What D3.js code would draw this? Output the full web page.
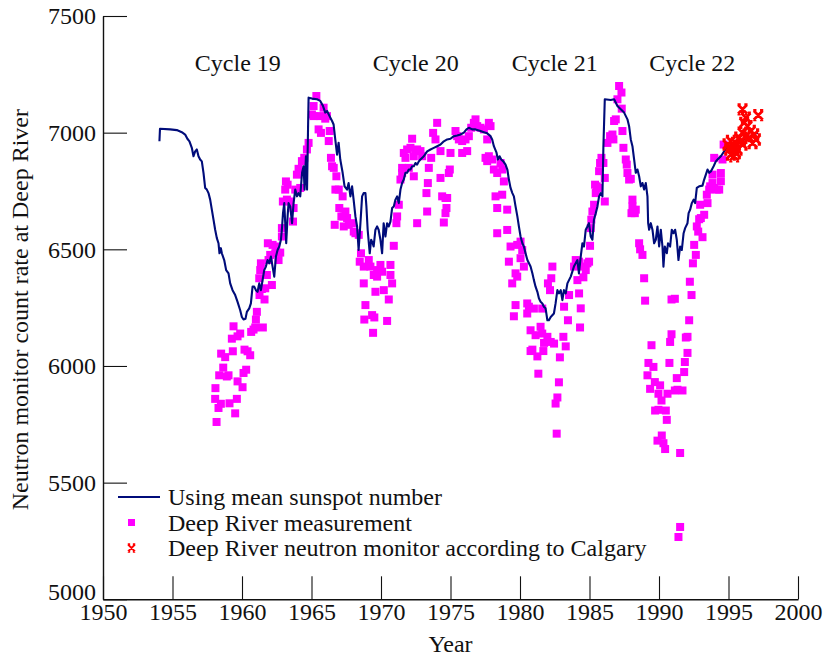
<!DOCTYPE html>
<html>
<head>
<meta charset="utf-8">
<script src="https://cdn.jsdelivr.net/npm/d3@7"></script>
<style>
  html, body { margin: 0; padding: 0; background: #fff; }
  svg text { font-family: "Liberation Serif", "Times New Roman", serif; fill: #111; }
</style>
</head>
<body>
<svg id="chart" width="825" height="658"></svg>
<script>
// Neutron monitor count rate computed from the mean sunspot number: [year, count rate]
const sunspotModel = [
  [1954.06,6963],[1954.1,7017],[1954.83,7014],[1955.31,7011],[1955.67,7002],[1955.91,6992],[1956.07,6974],[1956.22,6963],
  [1956.39,6935],[1956.51,6899],[1956.63,6920],[1956.75,6928],[1956.87,6899],[1956.99,6885],[1957.11,6877],[1957.23,6828],
  [1957.35,6763],[1957.47,6756],[1957.59,6741],[1957.71,6713],[1957.83,6670],[1957.95,6627],[1958.07,6584],[1958.19,6548],
  [1958.31,6526],[1958.38,6483],[1958.48,6505],[1958.55,6483],[1958.72,6454],[1958.86,6411],[1959.03,6397],[1959.15,6354],
  [1959.32,6325],[1959.51,6304],[1959.68,6275],[1959.87,6239],[1959.99,6210],[1960.11,6199],[1960.25,6202],[1960.35,6232],
  [1960.52,6247],[1960.64,6268],[1960.76,6340],[1960.88,6340],[1961.0,6325],[1961.12,6318],[1961.24,6354],[1961.36,6325],
  [1961.48,6368],[1961.60,6411],[1961.72,6426],[1961.84,6454],[1961.96,6440],[1962.08,6469],[1962.20,6426],[1962.32,6383],
  [1962.44,6469],[1962.56,6497],[1962.68,6512],[1962.80,6541],[1962.87,6584],[1962.95,6655],[1963.04,6698],[1963.11,6612],
  [1963.18,6526],[1963.28,6641],[1963.35,6698],[1963.47,6684],[1963.60,6612],[1963.71,6698],[1963.83,6756],[1963.96,6727],
  [1964.07,6741],[1964.19,6727],[1964.32,6828],[1964.43,6856],[1964.50,6756],[1964.60,6899],[1964.68,6756],[1964.75,7014],
  [1964.79,7150],[1965.04,7146],[1965.40,7143],[1965.63,7136],[1965.83,7114],[1965.99,7086],[1966.12,7093],[1966.30,7071],
  [1966.48,7050],[1966.59,7035],[1966.71,6971],[1966.84,6906],[1966.95,6957],[1967.07,6885],[1967.24,6828],[1967.38,6770],
  [1967.56,6756],[1967.67,6784],[1967.80,6727],[1967.92,6770],[1968.03,6713],[1968.16,6641],[1968.28,6598],[1968.39,6497],
  [1968.52,6612],[1968.64,6727],[1968.75,6741],[1968.88,6741],[1968.95,6684],[1969.04,6584],[1969.19,6483],[1969.29,6541],
  [1969.40,6526],[1969.47,6512],[1969.60,6584],[1969.72,6598],[1969.83,6584],[1969.96,6541],[1970.08,6483],[1970.19,6612],
  [1970.32,6555],[1970.44,6612],[1970.56,6598],[1970.68,6619],[1970.80,6677],[1970.92,6684],[1971.04,6713],[1971.16,6727],
  [1971.28,6698],[1971.40,6756],[1971.52,6784],[1971.64,6799],[1971.76,6828],[1971.88,6828],[1972.00,6842],[1972.12,6842],
  [1972.24,6856],[1972.36,6856],[1972.48,6870],[1972.60,6863],[1972.72,6877],[1972.84,6885],[1973.08,6899],[1973.32,6920],
  [1973.56,6928],[1973.80,6935],[1974.04,6942],[1974.28,6949],[1974.52,6963],[1974.76,6971],[1975.0,6974],[1975.24,6985],
  [1975.48,6988],[1975.72,6992],[1975.96,7000],[1976.15,7014],[1976.32,7021],[1976.56,7014],[1976.80,7014],[1977.16,7007],
  [1977.40,7002],[1977.64,6997],[1977.88,6985],[1978.00,6971],[1978.12,6942],[1978.31,6914],[1978.41,6885],[1978.53,6899],
  [1978.65,6885],[1978.80,6877],[1978.96,6863],[1979.09,6842],[1979.20,6799],[1979.32,6763],[1979.45,6741],[1979.56,6727],
  [1979.68,6684],[1979.81,6641],[1979.92,6598],[1980.04,6555],[1980.17,6526],[1980.28,6512],[1980.40,6483],[1980.53,6454],
  [1980.76,6426],[1980.89,6397],[1981.00,6368],[1981.12,6340],[1981.25,6318],[1981.36,6290],[1981.48,6275],[1981.61,6268],
  [1981.72,6254],[1981.84,6247],[1981.97,6196],[1982.08,6196],[1982.21,6210],[1982.44,6225],[1982.56,6268],[1982.69,6325],
  [1982.80,6311],[1982.93,6325],[1983.05,6282],[1983.16,6325],[1983.29,6311],[1983.41,6354],[1983.65,6383],[1983.88,6426],
  [1984.13,6454],[1984.24,6397],[1984.37,6469],[1984.49,6526],[1984.60,6512],[1984.73,6584],[1984.85,6598],[1984.96,6612],
  [1985.09,6555],[1985.21,6541],[1985.32,6627],[1985.45,6655],[1985.57,6684],[1985.69,6727],[1985.81,6741],[1985.93,6727],
  [1986.00,6942],[1986.10,7143],[1986.53,7140],[1986.77,7143],[1987.01,7114],[1987.25,7100],[1987.49,7086],[1987.73,7057],
  [1987.85,7028],[1987.97,6971],[1988.09,6942],[1988.21,6885],[1988.33,6828],[1988.45,6842],[1988.57,6813],[1988.69,6770],
  [1988.81,6784],[1988.93,6756],[1989.05,6784],[1989.17,6727],[1989.22,6612],[1989.29,6584],[1989.41,6612],[1989.53,6584],
  [1989.65,6526],[1989.77,6541],[1989.89,6598],[1990.01,6512],[1990.13,6584],[1990.25,6512],[1990.32,6426],[1990.42,6512],
  [1990.56,6483],[1990.65,6526],[1990.80,6512],[1990.92,6584],[1991.04,6569],[1991.16,6584],[1991.28,6541],[1991.40,6454],
  [1991.52,6512],[1991.64,6497],[1991.77,6569],[1991.88,6591],[1992.05,6612],[1992.13,6655],[1992.24,6670],[1992.36,6698],
  [1992.49,6713],[1992.60,6698],[1992.72,6763],[1992.89,6770],[1993.13,6773],[1993.25,6799],[1993.37,6820],[1993.49,6842],
  [1993.61,6828],[1993.73,6834],[1993.93,6856],[1994.09,6877],[1994.21,6885],[1994.45,6899],[1994.69,6920],[1994.94,6935],
  [1995.17,6942],[1995.41,6949],[1995.66,6957],[1995.89,6963],[1996.13,6971],[1996.38,6978],[1996.61,6985],[1996.73,6992],
  [1997.12,7000]
];

// Deep River monthly measurements: [year, count rate]
const deepRiver = [
  [1958.17,5760],[1958.07,5859],[1958.31,5820],[1958.48,5838],[1958.09,5905],[1958.36,5960],[1958.65,5993],[1958.91,5955],
  [1959.03,5960],[1958.50,6053],[1958.79,6038],[1959.34,6063],[1959.27,6117],[1959.39,6170],[1959.87,6139],[1959.68,6127],
  [1959.51,5797],[1959.10,5840],[1959.63,5859],[1959.68,5934],[1960.04,5909],[1960.11,5970],[1960.30,5984],[1960.18,6070],
  [1960.40,6063],[1960.59,6046],[1960.66,6146],[1960.83,6156],[1960.95,6165],[1961.50,6165],[1961.00,6199],[1961.07,6232],
  [1961.26,6304],[1961.62,6285],[1961.67,6333],[1962.15,6347],[1961.43,6330],[1961.24,6376],[1961.79,6390],[1961.36,6440],
  [1961.31,6411],[1961.91,6454],[1962.03,6476],[1962.39,6483],[1962.75,6486],[1962.63,6454],[1961.86,6526],[1962.20,6519],
  [1962.46,6512],[1962.87,6555],[1962.87,6591],[1963.67,6619],[1962.94,6705],[1963.23,6713],[1963.47,6705],[1963.71,6677],
  [1963.11,6756],[1963.16,6791],[1963.28,6777],[1963.83,6756],[1964.19,6763],[1963.95,6820],[1964.07,6845],[1964.31,6878],
  [1964.48,6892],[1964.67,6928],[1964.79,6956],[1965.15,7071],[1965.03,7078],[1965.35,7157],[1965.15,7114],[1965.63,7071],
  [1965.87,7107],[1965.99,7060],[1966.11,7071],[1965.51,7014],[1965.68,6999],[1966.31,7007],[1966.24,6964],[1966.40,6892],
  [1966.48,6856],[1966.60,6849],[1966.79,6813],[1966.72,6756],[1966.96,6756],[1967.24,6727],[1966.67,6605],[1967.00,6677],
  [1967.15,6641],[1967.44,6662],[1967.56,6634],[1967.68,6605],[1967.32,6598],[1967.92,6612],[1968.16,6569],[1968.40,6562],
  [1967.31,6641],[1968.04,6576],[1968.56,6483],[1968.47,6447],[1969.12,6454],[1968.76,6426],[1969.24,6426],[1969.48,6390],
  [1969.72,6411],[1969.96,6433],[1970.08,6404],[1969.72,6383],[1970.68,6433],[1970.68,6390],[1968.76,6354],[1970.80,6354],
  [1969.60,6318],[1970.20,6325],[1970.56,6285],[1968.88,6261],[1968.80,6199],[1969.36,6218],[1969.52,6208],[1970.44,6193],
  [1969.43,6142],[1970.92,6515],[1971.11,6612],[1971.16,6641],[1971.28,6691],[1971.64,6913],[1971.76,6892],[1971.88,6928],
  [1972.12,6935],[1972.24,6974],[1972.36,6899],[1972.48,6921],[1972.60,6928],[1972.84,6921],[1972.96,6899],[1971.52,6849],
  [1971.52,6827],[1971.40,6799],[1972.00,6849],[1972.36,6813],[1972.60,6612],[1973.32,6662],[1973.27,6741],[1973.37,6784],
  [1973.61,6892],[1973.44,6849],[1973.75,6999],[1973.92,6971],[1974.04,7042],[1974.28,6921],[1974.28,6806],[1974.40,6727],
  [1974.64,6720],[1974.76,6720],[1974.71,6677],[1974.64,6655],[1974.52,6615],[1975.00,6913],[1974.88,6827],[1974.95,6842],
  [1975.36,7007],[1975.48,6985],[1975.60,6971],[1975.84,6964],[1976.08,6971],[1976.20,6921],[1975.84,6913],[1976.32,6985],
  [1976.49,7021],[1976.68,7042],[1976.80,7057],[1976.92,7028],[1977.16,7021],[1977.40,7014],[1977.76,7042],[1977.88,7028],
  [1977.64,6971],[1977.52,6892],[1977.64,6878],[1977.76,6899],[1978.00,6885],[1978.12,6842],[1978.36,6827],[1978.72,6842],
  [1978.60,6870],[1978.84,6791],[1978.24,6727],[1978.72,6734],[1978.36,6677],[1979.08,6670],[1978.36,6569],[1979.08,6583],
  [1979.32,6512],[1979.20,6447],[1979.80,6519],[1980.04,6533],[1980.16,6497],[1980.04,6462],[1980.28,6426],[1979.68,6397],
  [1979.80,6383],[1979.44,6354],[1979.68,6261],[1979.56,6213],[1980.52,6268],[1980.64,6254],[1981.00,6246],[1980.52,6225],
  [1981.60,6246],[1980.76,6153],[1981.12,6132],[1981.48,6168],[1981.60,6139],[1981.97,6125],[1982.21,6103],[1981.73,6099],
  [1982.45,6096],[1982.33,6426],[1982.25,6376],[1982.01,6354],[1982.16,6325],[1983.17,6254],[1983.53,6304],[1983.89,6426],
  [1984.01,6454],[1984.25,6447],[1984.13,6368],[1984.25,6311],[1983.45,6196],[1983.12,6125],[1983.29,6084],
  [1980.76,6064],[1980.89,6070],[1981.25,6041],[1981.68,6064],[1981.32,5967],[1982.64,5710],[1982.56,5839],[1982.69,5865],
  [1982.80,5930],[1982.87,6037],
  [1984.56,6380],[1984.37,6247],[1984.32,6165],[1984.61,6426],[1984.73,6411],[1984.85,6440],[1984.97,6447],[1985.04,6515],
  [1985.09,6591],[1985.13,6627],[1985.21,6662],[1985.33,6691],[1985.45,6741],[1985.52,6770],[1985.40,6777],[1985.62,6763],
  [1985.69,6835],[1985.76,6870],[1985.86,6892],[1986.00,6870],[1986.10,6806],[1986.10,6705],[1986.29,6956],[1986.48,6985],
  [1986.65,6992],[1986.72,6971],[1986.77,7050],[1986.89,7057],[1987.13,7200],[1987.30,7172],[1987.01,7143],[1987.32,7103],
  [1987.37,7007],[1987.44,6935],[1987.61,6885],[1987.68,6863],[1987.73,6827],[1987.85,6799],[1987.97,6802],[1988.09,6713],
  [1988.09,6684],[1988.02,6655],[1988.33,6670],[1988.26,6655],[1988.57,6526],[1988.64,6500],[1988.81,6476],[1988.93,6376],
  [1989.00,6280],[1989.46,6089],[1989.24,6013],[1989.60,5996],[1989.17,5960],[1989.36,5902],[1989.70,5931],[1990.08,5917],
  [1989.96,5881],[1990.18,5852],[1990.61,5881],[1989.72,5809],[1989.96,5812],[1990.49,5809],[1990.56,5769],[1990.20,5702],
  [1989.89,5680],[1990.32,5669],[1990.44,5644],[1991.52,5627],[1990.90,6285],[1991.14,6288],[1990.90,6136],[1990.80,6103],
  [1990.75,6013],[1991.28,5948],[1991.14,5895],[1991.33,5898],[1991.69,5895],[1991.81,5974],[1991.86,6017],[1992.05,6056],
  [1991.93,6122],[1992.05,6125],[1992.17,6196],[1992.34,6304],[1992.22,6361],[1992.44,6440],[1992.65,6476],[1992.53,6519],
  [1992.72,6598],[1992.82,6576],[1993.13,6552],[1992.89,6629],[1993.01,6634],[1993.25,6648],[1993.49,6698],[1993.44,6734],
  [1992.96,6691],[1993.68,6770],[1993.61,6756],[1993.85,6784],[1993.97,6763],[1994.16,6756],[1994.33,6756],[1994.45,6792],
  [1994.45,6827],[1993.85,6820],[1993.97,6892],[1994.57,6885],[1994.65,6949],
  [1991.52,5310],[1991.40,5267]
];

// Deep River values derived from the Calgary monitor: [year, count rate]
const calgary = [
  [1996.01,7100],[1997.14,7075],[1996.25,7064],[1996.13,7042],[1996.37,7028],[1996.61,7007],[1996.01,7000],[1996.25,6985],
  [1996.85,6992],[1996.97,6971],[1995.77,6978],[1995.89,6964],[1995.53,6956],[1995.17,6964],[1994.93,6949],[1995.05,6928],
  [1995.41,6935],[1995.65,6928],[1995.17,6906],[1995.41,6899],[1995.53,6913],[1996.01,6949],[1996.49,6978],[1996.73,6956]
];

const yearTicks = [1950, 1955, 1960, 1965, 1970, 1975, 1980, 1985, 1990, 1995, 2000];
const rateTicks = [5000, 5500, 6000, 6500, 7000, 7500];
const cycles = [
  { label: "Cycle 19", year: 1959.7 },
  { label: "Cycle 20", year: 1972.5 },
  { label: "Cycle 21", year: 1982.5 },
  { label: "Cycle 22", year: 1992.4 }
];
const legendItems = [
  { type: "line",   label: "Using mean sunspot number" },
  { type: "square", label: "Deep River measurement" },
  { type: "cross",  label: "Deep River neutron monitor according to Calgary" }
];

const svg = d3.select("#chart");
const FONT = 24;

const x = d3.scaleLinear().domain([1950, 2000]).range([103, 798]);
const y = d3.scaleLinear().domain([5000, 7500]).range([599.3, 16]);

// Axes: ticks point into the plot, no top/right frame
const xAxis = svg.append("g")
  .attr("transform", `translate(0,${y(5000)})`)
  .call(d3.axisBottom(x).tickValues(yearTicks).tickFormat(d3.format("d"))
    .tickSizeInner(-23).tickSizeOuter(0).tickPadding(4));
const yAxis = svg.append("g")
  .attr("transform", `translate(${x(1950)},0)`)
  .call(d3.axisLeft(y).tickValues(rateTicks).tickFormat(d3.format("d"))
    .tickSizeInner(-24).tickSizeOuter(0).tickPadding(7));

[xAxis, yAxis].forEach(g => {
  g.select(".domain").attr("stroke", "#111").attr("stroke-width", 1.4);
  g.selectAll(".tick line").attr("stroke", "#111").attr("stroke-width", 1.1);
  g.selectAll(".tick text")
    .attr("fill", "#111")
    .style("font-family", '"Liberation Serif", "Times New Roman", serif')
    .style("font-size", FONT + "px");
});
// lift the bottom value label clear of the year labels
yAxis.selectAll(".tick text").filter(d => d === 5000).attr("dy", "0.02em");

// Axis titles
svg.append("text")
  .attr("x", x(1975)).attr("y", 652)
  .attr("text-anchor", "middle")
  .style("font-size", FONT + "px")
  .text("Year");
svg.append("text")
  .attr("transform", `translate(28,${y(6250) + 2}) rotate(-90)`)
  .attr("text-anchor", "middle")
  .style("font-size", FONT + "px")
  .text("Neutron monitor count rate at Deep River");

// Solar cycle labels
svg.selectAll(".cycle")
  .data(cycles)
  .enter().append("text")
  .attr("class", "cycle")
  .attr("x", d => x(d.year))
  .attr("y", 71)
  .attr("text-anchor", "middle")
  .style("font-size", FONT + "px")
  .text(d => d.label);

// Measured Deep River squares
const SQ = 8;
svg.append("g")
  .selectAll("rect")
  .data(deepRiver)
  .enter().append("rect")
  .attr("x", d => x(d[0]) - SQ / 2)
  .attr("y", d => y(d[1]) - SQ / 2)
  .attr("width", SQ).attr("height", SQ)
  .attr("fill", "#ff00ff");

// Model curve from sunspot number
const line = d3.line().x(d => x(d[0])).y(d => y(d[1]));
svg.append("path")
  .datum(sunspotModel)
  .attr("d", line)
  .attr("fill", "none")
  .attr("stroke", "#000c7a")
  .attr("stroke-width", 2.1)
  .attr("stroke-linejoin", "round");

// Calgary-derived crosses: a bold X with short caps
const crossPath = "M-4.5,-4.5L4.5,4.5M4.5,-4.5L-4.5,4.5M-5,-4.8H-1.8M1.8,-4.8H5M-5,4.8H-1.8M1.8,4.8H5";
svg.append("g")
  .selectAll("path")
  .data(calgary)
  .enter().append("path")
  .attr("transform", d => `translate(${x(d[0])},${y(d[1])})`)
  .attr("d", crossPath)
  .attr("fill", "none")
  .attr("stroke", "#ff0000")
  .attr("stroke-width", 2.8);

// Legend
const legend = svg.append("g").attr("transform", "translate(0,497)");
legendItems.forEach((item, i) => {
  const gy = i * 25.5;
  const row = legend.append("g").attr("transform", `translate(0,${gy})`);
  if (item.type === "line") {
    row.append("line").attr("x1", 118).attr("x2", 160).attr("y1", 0).attr("y2", 0)
      .attr("stroke", "#000c7a").attr("stroke-width", 2.1);
  } else if (item.type === "square") {
    row.append("rect").attr("x", 128).attr("y", -3.5).attr("width", 7).attr("height", 7)
      .attr("fill", "#ff00ff");
  } else {
    row.append("path").attr("transform", "translate(131.5,0) scale(0.75)").attr("d", crossPath)
      .attr("fill", "none").attr("stroke", "#ff0000").attr("stroke-width", 2.8);
  }
  row.append("text")
    .attr("x", 168).attr("y", 8)
    .style("font-size", FONT + "px")
    .text(item.label);
});
</script>
</body>
</html>
